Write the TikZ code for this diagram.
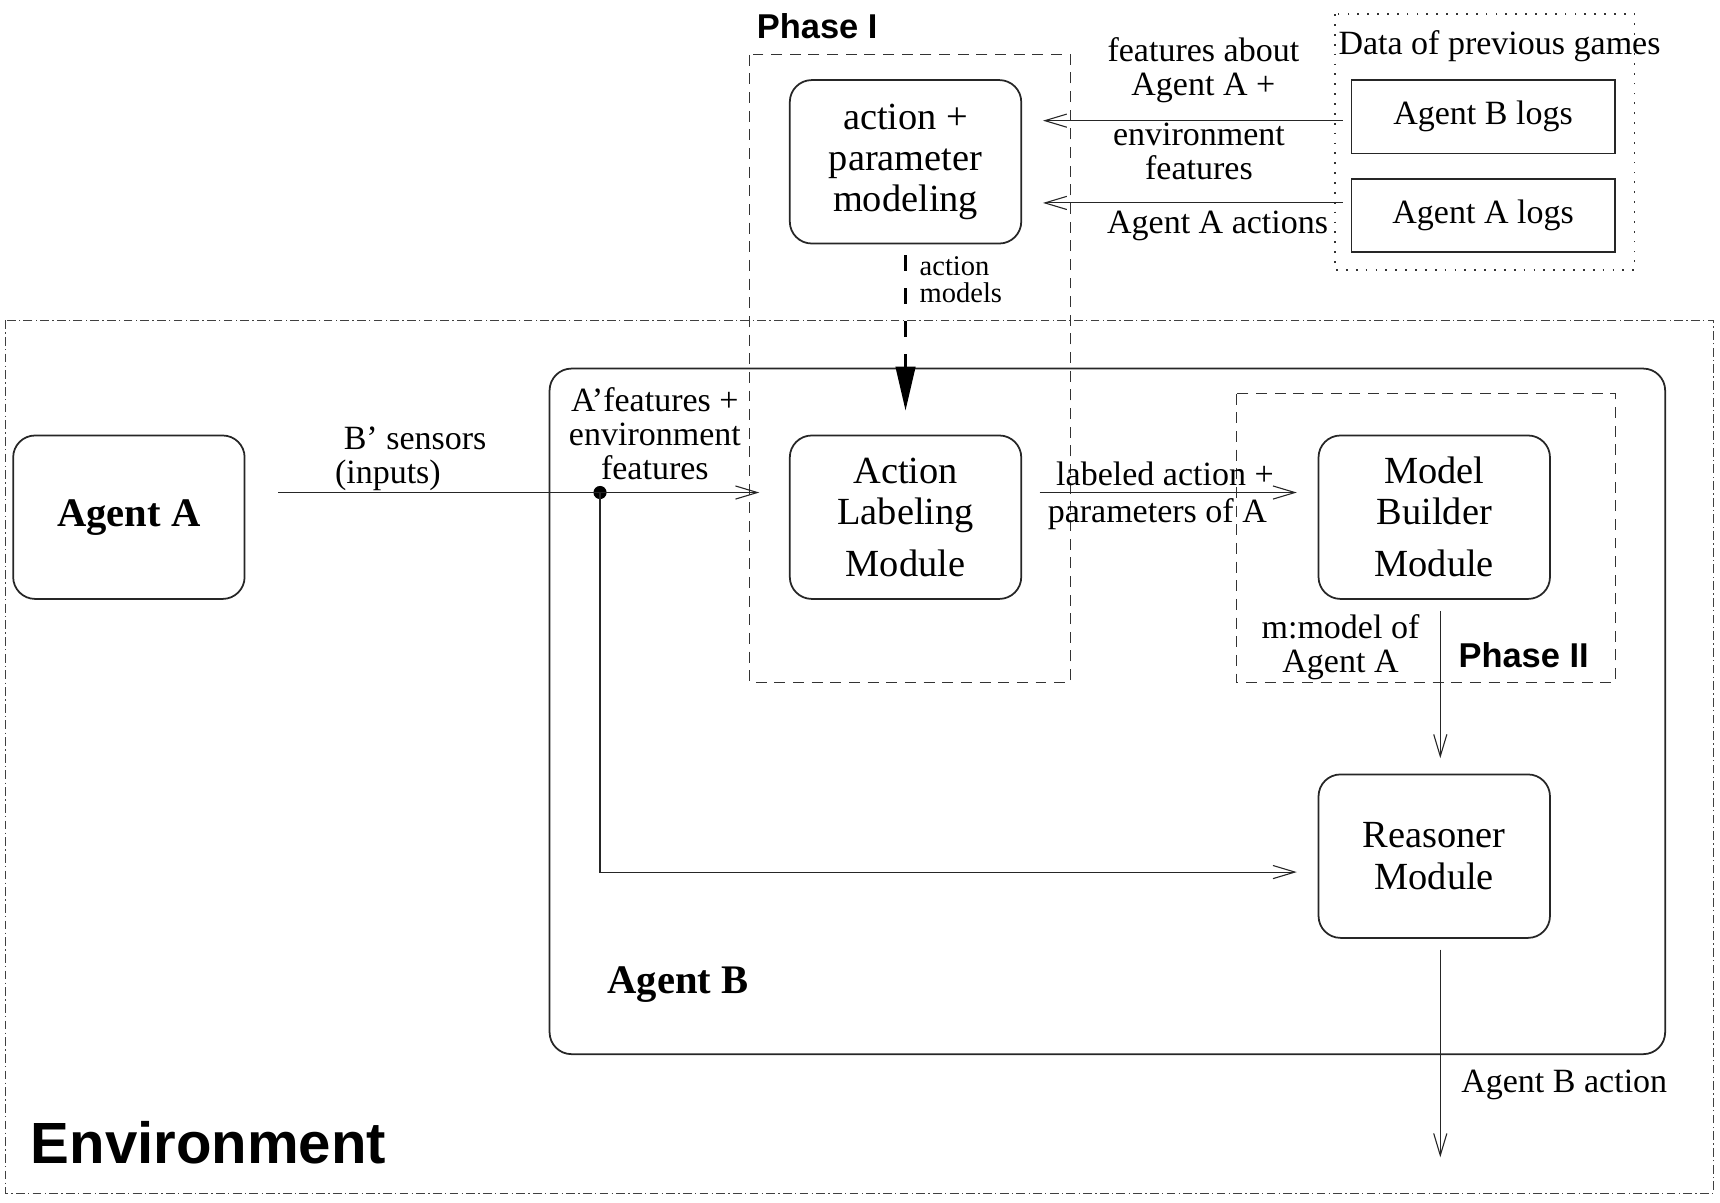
\documentclass[tikz,border=0pt]{standalone}
\usepackage{fontspec}
\setmainfont{Liberation Serif}
\setsansfont{Liberation Sans}
\usetikzlibrary{arrows.meta}
\newcommand{\lblfont}{\fontsize{15.5}{15.5}\selectfont}
\newcommand{\modfont}{\fontsize{17.5}{18.75}\selectfont}
\newcommand{\headfont}{\sffamily\bfseries\fontsize{15.7}{16}\selectfont}

\begin{document}
\begin{tikzpicture}[x=0.5pt,y=-0.5pt,
		module/.style={draw=black!85, line width=0.8pt, rounded corners=10pt, inner sep=0pt, minimum width=105.5pt, minimum height=74.5pt, align=center, font=\modfont},
		logbox/.style={draw=black!85, line width=0.8pt, inner sep=0pt, minimum width=120pt, minimum height=33.5pt, font=\lblfont},
		lbl/.style={inner sep=0pt, align=center, font=\lblfont},
		agentlbl/.style={inner sep=0pt, font=\bfseries\fontsize{18.5}{19}\selectfont},
		phasebox/.style={draw=black!80, line width=0.6pt, dash pattern=on 5pt off 3.5pt},
		flow/.style={draw=black!85, line width=0.5pt, -{Straight Barb[length=10pt,width=6pt]}},
		dotnode/.style={circle, fill=black, inner sep=0pt, minimum size=6pt}]
	\useasboundingbox (0,0) rectangle (1568,1096);
	\draw [black!75, line width=0.5pt, dash pattern=on 4pt off 1.5pt on 0.6pt off 1.5pt] (5,292) rectangle (1562,1088);
	\node [inner sep=0pt, font=\sffamily\bfseries\fontsize{26.5}{30}\selectfont] (envlbl) at (190,1042) {Environment};
	\draw [draw=black!85, line width=0.8pt, rounded corners=10pt] (501,336) rectangle (1518,961);
	\node [agentlbl] (agentBlbl) at (618,898) {Agent B};
	\draw [phasebox] (683,50) rectangle (976,622);
	\node [inner sep=0pt, font=\headfont] (phaseI) at (745,24) {Phase I};
	\draw [phasebox] (1127,359) rectangle (1473,622);
	\node [inner sep=0pt, font=\headfont] (phaseII) at (1389,597) {Phase II};
	\draw [black!80, line width=0.8pt, dash pattern=on 0.8pt off 3.7pt] (1217,13) rectangle (1490,246);
	\node [lbl] (datalbl) at (1367,42) {Data of previous games};
	\node [logbox] (blogs) at (1352,106.5) {Agent B logs};
	\node [logbox] (alogs) at (1352,196.5) {Agent A logs};
	\node [module] (apm) at (825.5,147.5) {action +\\parameter\\modeling};
	\node [module, font=\bfseries\fontsize{18.5}{19}\selectfont] (agentA) at (117.5,471.5) {Agent A};
	\node [module] (alm) at (825.5,471.5) {Action\\Labeling\\[5pt]Module};
	\node [module] (mbm) at (1307.5,471.5) {Model\\Builder\\[5pt]Module};
	\node [module] (rm) at (1307.5,780.5) {Reasoner\\Module};
	\node [dotnode] (tap) at (547,449) {};
	\coordinate (out) at (1313,1055);
	\draw [flow, shorten <=3.5pt, shorten >=9.5pt] ([yshift=-1.75pt]blogs.west) -- ([yshift=-1.75pt]blogs.west -| apm.east);
	\draw [flow, shorten <=3.5pt, shorten >=9.5pt] ([yshift=5.75pt]alogs.west) -- ([yshift=5.75pt]alogs.west -| apm.east);
	\node [lbl] (featlbl) at (1097,64) {features about\\Agent A +};
	\node [lbl] (envfeat) at (1093,138) {environment\\features};
	\node [lbl] (actlbl) at (1110,206) {Agent A actions};
	\draw [line width=1pt, dash pattern=on 7pt off 8pt, -{Triangle[length=20pt,width=9pt]}, shorten <=5pt, shorten >=11pt] (apm.south) -- (alm.north);
	\node [lbl, anchor=west, font=\fontsize{13}{12.5}\selectfont, align=left] (modlbl) at (838,255) {action\\models};
	\draw [flow, shorten <=15pt, shorten >=13.5pt] ([yshift=11.25pt]agentA.east) -- ([yshift=11.25pt]agentA.east -| alm.west);
	\node [lbl, anchor=west, align=left] (senslbl) at (305,418) {\hspace{4pt}B’ sensors\\(inputs)};
	\node [lbl] (afeat) at (597,395) {A’features +\\environment\\features};
	\draw [flow, shorten >=9.5pt] (tap.center) |- ([yshift=-7.25pt]rm.west);
	\draw [flow, shorten <=8pt, shorten >=9.5pt] ([yshift=11.25pt]alm.east) -- ([yshift=11.25pt]mbm.west);
	\node [lbl] (lablbl) at (1062,432) {labeled action +};
	\node [lbl] (parlbl) at (1055,469) {parameters of A};
	\draw [flow, shorten <=5pt, shorten >=7pt] ([xshift=2.75pt]mbm.south) -- ([xshift=2.75pt]rm.north);
	\node [lbl] (mlbl) at (1222,590) {m:model of\\Agent A};
	\draw [flow, shorten <=5pt] ([xshift=2.75pt]rm.south) -- (out);
	\node [lbl] (outlbl) at (1426,989) {Agent B action};
\end{tikzpicture}
\end{document}
